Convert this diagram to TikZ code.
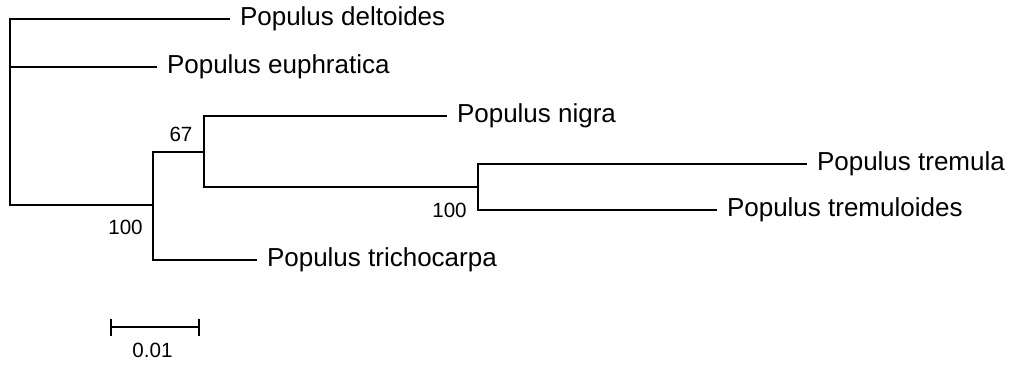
\documentclass[tikz,border=0pt]{standalone}
\usepackage{fontspec}
\setmainfont{Liberation Sans}
\usetikzlibrary{positioning, arrows.meta}

\begin{document}
\begin{tikzpicture}[
		x=0.5pt, y=-0.5pt,
		branch/.style={
			line width=1pt,
			black
		},
		leaf/.style={
			anchor=west,
			inner sep=4.8pt,
			font=\fontsize{13}{15}\selectfont
		},
		boot/.style={
			inner sep=0pt,
			font=\fontsize{10.3}{12}\selectfont
		}
		]
		\useasboundingbox (0,0) rectangle (1012,369);
		% Inner nodes
		\coordinate (root) at (10,112);
		\coordinate (n100) at (153,205);
		\coordinate (n67) at (204,152);
		\coordinate (ntrem) at (478,187);
		% Leaves
		\node[leaf] (delt) at (230,19) {Populus deltoides};
		\node[leaf] (euph) at (157,67) {Populus euphratica};
		\node[leaf] (nigra) at (447,116) {Populus nigra};
		\node[leaf] (trem) at (807,164) {Populus tremula};
		\node[leaf] (tremd) at (717,210) {Populus tremuloides};
		\node[leaf] (trich) at (257,260) {Populus trichocarpa};
		% Branches
		\draw[branch] (root) |- (delt.west);
		\draw[branch] (root) |- (euph.west);
		\draw[branch] (root) |- (n100);
		\draw[branch] (n100) |- (n67);
		\draw[branch] (n100) |- (trich.west);
		\draw[branch] (n67) |- (nigra.west);
		\draw[branch] (n67) |- (ntrem);
		\draw[branch] (ntrem) |- (trem.west);
		\draw[branch] (ntrem) |- (tremd.west);
		% Bootstrap values
		\node[boot] (b67) at (181,134) {67};
		\node[boot] (b100a) at (125.5,227) {100};
		\node[boot] (b100b) at (449.5,210.5) {100};
		% Scale bar
		\coordinate (sbl) at (110,327);
		\coordinate (sbr) at (200,327);
		\draw[branch, {Bar[width=8.5pt]}-{Bar[width=8.5pt]}] (sbl) -- (sbr);
		\node[boot] (sblab) at (152.5,350) {0.01};
\end{tikzpicture}
\end{document}
